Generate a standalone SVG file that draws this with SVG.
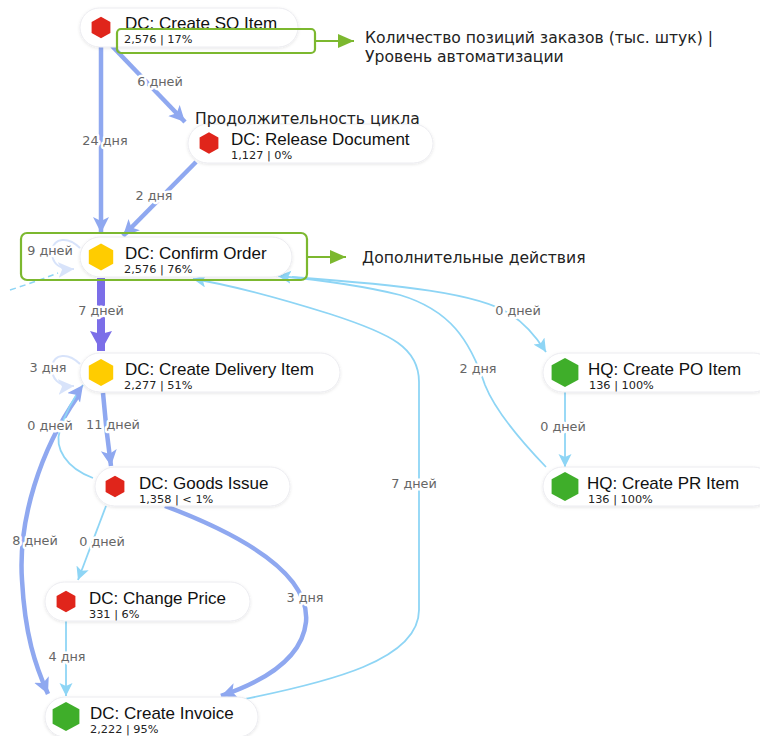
<svg xmlns="http://www.w3.org/2000/svg" width="760" height="736" viewBox="0 0 760 736">
<style>
.pill{fill:#fff;stroke:#ececf0;stroke-width:1;filter:url(#sh)}
.t{font-family:"Liberation Sans",Arial,sans-serif;font-size:17px;fill:#111}
.s{font-family:"DejaVu Sans",Verdana,sans-serif;font-size:11.3px;fill:#222}
.lb{font-family:"DejaVu Sans",Verdana,sans-serif;font-size:12.8px;fill:#666;text-anchor:middle;stroke:#fff;stroke-width:5px;stroke-linejoin:round;paint-order:stroke}
.an{font-family:"DejaVu Sans",Verdana,sans-serif;font-size:15.6px;fill:#222}
.eb{fill:none;stroke:#8fa8f0;stroke-width:4.5}
.ep{fill:none;stroke:#7b6ee8;stroke-width:8}
.el{fill:none;stroke:#8ed5f5;stroke-width:1.8}
.gbox{fill:none;stroke:#7cb82f;stroke-width:2.2}
.red{fill:#e0251b}.yel{fill:#ffcc00}.grn{fill:#3fae2a}
</style>
<defs>
<filter id="sh" x="-10%" y="-30%" width="120%" height="160%"><feDropShadow dx="0" dy="1" stdDeviation="1.5" flood-color="#000" flood-opacity="0.1"/></filter>
<marker id="aB" markerUnits="userSpaceOnUse" markerWidth="18" markerHeight="18" refX="16" refY="8" orient="auto"><path d="M0,0 L16,8 L0,16 L4,8 z" fill="#8fa8f0"/></marker>
<marker id="aP" markerUnits="userSpaceOnUse" markerWidth="22" markerHeight="24" refX="20" refY="11" orient="auto"><path d="M0,0 L20,11 L0,22 L3,11 z" fill="#7b6ee8"/></marker>
<marker id="aL" markerUnits="userSpaceOnUse" markerWidth="14" markerHeight="14" refX="13" refY="6.5" orient="auto"><path d="M0,0 L13,6.5 L0,13 L3,6.5 z" fill="#8ed5f5"/></marker>
<marker id="aF" markerUnits="userSpaceOnUse" markerWidth="18" markerHeight="18" refX="16" refY="8" orient="auto"><path d="M0,0 L16,8 L0,16 L4,8 z" fill="#a9c3f5"/></marker>
<marker id="aG" markerUnits="userSpaceOnUse" markerWidth="18" markerHeight="16" refX="16" refY="7" orient="auto"><path d="M0,0 L16,7 L0,14 z" fill="#7cb82f"/></marker>
<polygon id="hexS" points="0,-10.8 9.4,-5.4 9.4,5.4 0,10.8 -9.4,5.4 -9.4,-5.4"/>
<polygon id="hexY" points="0,-13.5 12.2,-6.75 12.2,6.75 0,13.5 -12.2,6.75 -12.2,-6.75"/>
<polygon id="hexL" points="0,-14.5 13.4,-7.25 13.4,7.25 0,14.5 -13.4,7.25 -13.4,-7.25"/>
</defs>
<rect width="760" height="736" fill="#fff"/>

<g id="connectors">
<path class="eb" d="M101,47 L101,233" marker-end="url(#aB)"/>
<path class="eb" d="M112,46 L185,122" marker-end="url(#aB)"/>
<path class="eb" d="M196,162 L123,236" marker-end="url(#aB)"/>
<path class="ep" d="M101,278 L101,351" marker-end="url(#aP)"/>
<path class="eb" d="M103,393 Q106,430 111,466" marker-end="url(#aB)"/>
<path class="el" d="M106,506 L78,580" marker-end="url(#aL)"/>
<path class="el" d="M66,621 L66,696" marker-end="url(#aL)"/>
<path class="eb" d="M165,506 C255,540 310,578 306,622 C302,660 262,682 221,696" marker-end="url(#aB)"/>
<path class="eb" d="M78,396 C40,450 18,520 22,580 C25,635 35,665 48,694" marker-end="url(#aB)"/>
<path class="el" d="M93,478 C66,468 54,448 60,430 C65,414 72,400 83,385" marker-end="url(#aB)"/>
<path class="el" d="M240,700 C330,682 419,660 419,610 L419,382 C419,348 392,334 330,314 C272,296 232,285 193,279" marker-end="url(#aL)"/>
<path class="el" d="M292,277 C400,285 478,293 510,314 C526,324 537,338 546,352" marker-end="url(#aL)"/>
<path class="el" d="M546,467 C520,440 495,410 485,385 C470,340 450,310 400,295 C360,285 320,280 278,276" marker-end="url(#aL)"/>
<path class="el" d="M565,392 L565,467" marker-end="url(#aL)"/>
<path fill="none" stroke="#a9c3f5" stroke-width="2" opacity="0.45" d="M80,248 C68,236 54,238 52,250 C51,262 58,270 74,269" marker-end="url(#aF)"/>
<path fill="none" stroke="#8ed5f5" stroke-width="1.5" stroke-dasharray="6,4" d="M10,290 Q35,282 58,273"/>
<path fill="none" stroke="#a9c3f5" stroke-width="2" opacity="0.45" d="M80,364 C68,352 54,354 52,366 C51,378 58,387 74,386" marker-end="url(#aF)"/>
<text class="lb" x="105" y="145">24 дня</text>
<text class="lb" x="160" y="86">6 дней</text>
<text class="lb" x="154" y="200">2 дня</text>
<text class="lb" x="101" y="315">7 дней</text>
<text class="lb" x="113" y="429">11 дней</text>
<text class="lb" x="102" y="546">0 дней</text>
<text class="lb" x="67" y="661">4 дня</text>
<text class="lb" x="305" y="602">3 дня</text>
<text class="lb" x="35" y="545">8 дней</text>
<text class="lb" x="50" y="430">0 дней</text>
<text class="lb" x="414" y="488">7 дней</text>
<text class="lb" x="518" y="315">0 дней</text>
<text class="lb" x="478" y="373">2 дня</text>
<text class="lb" x="563" y="431">0 дней</text>
<text class="lb" x="50" y="255">9 дней</text>
<text class="lb" x="48" y="372">3 дня</text>
</g>

<g id="n-create-so-item">
<rect class="pill" x="80" y="8" width="218" height="39" rx="19.5"/>
<use href="#hexS" class="red" x="101" y="27.5"/>
<text class="t" x="125" y="29">DC: Create SO Item</text>
<text class="s" x="124" y="43">2,576 | 17%</text>
</g>
<g id="n-release-document">
<rect class="pill" x="188" y="124" width="245" height="39" rx="19.5"/>
<use href="#hexS" class="red" x="209" y="143"/>
<text class="t" x="231" y="145">DC: Release Document</text>
<text class="s" x="231" y="159">1,127 | 0%</text>
</g>
<g id="n-confirm-order">
<rect class="pill" x="80" y="237" width="212" height="40" rx="20"/>
<use href="#hexY" class="yel" x="101" y="257"/>
<text class="t" x="125" y="259">DC: Confirm Order</text>
<text class="s" x="124" y="273">2,576 | 76%</text>
</g>
<g id="n-create-delivery-item">
<rect class="pill" x="80" y="353" width="260" height="39" rx="19.5"/>
<use href="#hexY" class="yel" x="101" y="372.5"/>
<text class="t" x="125" y="375">DC: Create Delivery Item</text>
<text class="s" x="124" y="389">2,277 | 51%</text>
</g>
<g id="n-goods-issue">
<rect class="pill" x="95" y="467" width="195" height="39" rx="19.5"/>
<use href="#hexS" class="red" x="115" y="486.5"/>
<text class="t" x="139" y="489">DC: Goods Issue</text>
<text class="s" x="139" y="503">1,358 | &lt; 1%</text>
</g>
<g id="n-change-price">
<rect class="pill" x="45" y="582" width="205" height="39" rx="19.5"/>
<use href="#hexS" class="red" x="66" y="601.5"/>
<text class="t" x="89" y="604">DC: Change Price</text>
<text class="s" x="89" y="618">331 | 6%</text>
</g>
<g id="n-create-invoice">
<rect class="pill" x="45" y="697" width="213" height="40" rx="20"/>
<use href="#hexL" class="grn" x="66" y="716.5"/>
<text class="t" x="90" y="719">DC: Create Invoice</text>
<text class="s" x="90" y="733">2,222 | 95%</text>
</g>
<g id="n-hq-create-po-item">
<rect class="pill" x="543" y="353" width="230" height="39" rx="19.5"/>
<use href="#hexL" class="grn" x="565" y="372.5"/>
<text class="t" x="588" y="375">HQ: Create PO Item</text>
<text class="s" x="589" y="389">136 | 100%</text>
</g>
<g id="n-hq-create-pr-item">
<rect class="pill" x="543" y="467" width="230" height="39" rx="19.5"/>
<use href="#hexL" class="grn" x="565" y="486.5"/>
<text class="t" x="587" y="489">HQ: Create PR Item</text>
<text class="s" x="588" y="503">136 | 100%</text>
</g>

<g id="annotations">
<rect class="gbox" x="117" y="29" width="198" height="24" rx="4"/>
<path fill="none" stroke="#7cb82f" stroke-width="2.2" d="M315,41 L354,41" marker-end="url(#aG)"/>
<text class="an" x="365" y="43">Количество позиций заказов (тыс. штук) |</text>
<text class="an" x="365" y="62">Уровень автоматизации</text>
<text class="an" x="195" y="124">Продолжительность цикла</text>
<rect class="gbox" x="21" y="233" width="286" height="47" rx="6"/>
<path fill="none" stroke="#7cb82f" stroke-width="2.2" d="M307,257 L346,257" marker-end="url(#aG)"/>
<text class="an" x="362" y="263">Дополнительные действия</text>
</g>
</svg>
